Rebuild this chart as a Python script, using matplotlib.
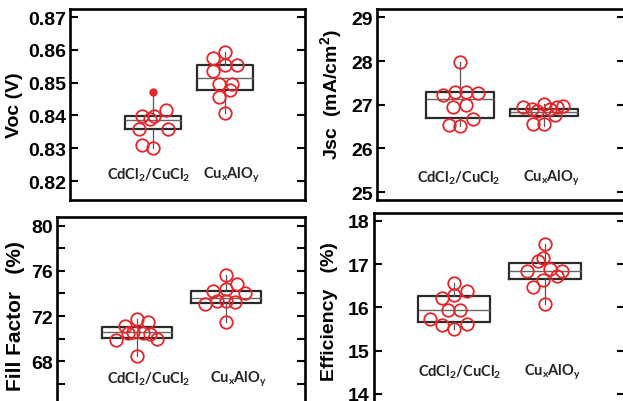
import matplotlib.pyplot as plt
from matplotlib.ticker import MultipleLocator

plt.rcParams['font.family'] = ['Liberation Sans', 'DejaVu Sans']
# sub/superscripts take the font of the surrounding text
plt.rcParams['mathtext.default'] = 'regular'

groups = ['CdCl$_2$/CuCl$_2$', 'Cu$_x$AlO$_y$']

# Voc (V)
voc_a = [0.8397, 0.8389, 0.8397, 0.8417, 0.8360, 0.8360, 0.8309, 0.8302]
voc_a_dx = [-0.157, -0.042, 0.014, 0.18, -0.19, 0.213, -0.157, 0.005]
voc_b = [0.8593, 0.8575, 0.8555, 0.8555, 0.8535, 0.8496, 0.8496, 0.8476, 0.8455, 0.8407]
voc_b_dx = [0.0, -0.162, 0.0, 0.171, -0.162, -0.083, 0.093, 0.069, -0.083, 0.0]
voc_box = [(0.8302, 0.8360, 0.8386, 0.8397, 0.8470), (0.8407, 0.8477, 0.8514, 0.8553, 0.8593)]
voc_flier = [0.8470]

# Jsc (mA/cm2)
jsc_a = [27.97, 27.23, 27.30, 27.30, 27.27, 26.94, 27.00, 26.54, 26.51, 26.68]
jsc_a_dx = [0.0, -0.198, -0.06, 0.071, 0.218, -0.079, 0.071, -0.127, 0.0, 0.151]
jsc_b = [26.94, 26.90, 26.86, 27.02, 26.90, 26.94, 26.98, 26.55, 26.55, 26.76]
jsc_b_dx = [-0.246, -0.147, -0.087, 0.0, 0.071, 0.151, 0.23, -0.127, 0.0, 0.131]
jsc_box = [(26.51, 26.69, 27.13, 27.29, 27.97), (26.52, 26.75, 26.83, 26.90, 27.02)]

# Fill factor (%)
ff_a = [71.7, 71.5, 71.1, 70.6, 70.5, 70.4, 70.0, 69.9, 68.5, 70.5]
ff_a_dx = [0.0, 0.127, -0.135, -0.05, 0.07, 0.15, 0.22, -0.24, 0.0, -0.1]
ff_b = [75.64, 74.84, 74.40, 74.25, 74.02, 73.37, 73.37, 73.22, 73.07, 71.51]
ff_b_dx = [0.0, 0.12, 0.0, -0.142, 0.213, -0.105, 0.0, 0.10, -0.236, 0.0]
ff_box = [(68.5, 70.1, 70.6, 71.05, 71.75), (71.51, 73.2, 73.57, 74.25, 75.64)]

# Efficiency (%)
eff_a = [16.56, 16.38, 16.22, 16.28, 15.94, 15.94, 15.72, 15.58, 15.50, 15.62]
eff_a_dx = [0.0, 0.139, -0.136, 0.0, -0.062, 0.066, -0.264, -0.136, 0.0, 0.139]
eff_b = [17.46, 17.15, 17.06, 16.88, 16.85, 16.85, 16.73, 16.62, 16.48, 16.08]
eff_b_dx = [0.0, -0.018, -0.073, 0.055, -0.2, 0.183, 0.128, -0.018, -0.128, 0.0]
eff_box = [(15.50, 15.65, 15.93, 16.27, 16.56), (16.08, 16.65, 16.85, 17.02, 17.46)]

fig = plt.figure(figsize=(6.23, 4.02), dpi=100)

red = '#e3262b'


def panel(rect, xlim, ylim, a, adx, b, bdx, box, width, ylabel, labx, laby,
          major, minor, ticklabels, catx, caty, ylsize=14, fliers=None):
    ax = fig.add_axes(rect)
    stats = []
    for lo, q1, med, q3, hi in box:
        stats.append(dict(whislo=lo, q1=q1, med=med, q3=q3, whishi=hi, fliers=[]))
    ax.bxp(stats, positions=[1, 2], widths=width, showfliers=False, showcaps=False,
           boxprops=dict(color='#2b2b2b', linewidth=1.6),
           medianprops=dict(color='#666666', linewidth=1.0),
           whiskerprops=dict(color='#555555', linewidth=0.9), zorder=2)
    ax.plot([1 + d for d in adx], a, 'o', ms=9, mfc='none', mec=red, mew=1.3, zorder=3)
    ax.plot([2 + d for d in bdx], b, 'o', ms=9, mfc='none', mec=red, mew=1.3, zorder=3)
    if fliers:
        ax.plot([1] * len(fliers), fliers, 'o', ms=5, color=red, zorder=4)
    ax.set_xlim(xlim)
    ax.set_ylim(ylim)
    ax.set_xticks([])
    ax.yaxis.set_major_locator(MultipleLocator(major))
    if minor:
        ax.yaxis.set_minor_locator(MultipleLocator(minor))
    ax.yaxis.set_major_formatter(ticklabels)
    ax.tick_params(axis='y', which='both', direction='in', left=True, right=True,
                   width=1.5, length=6, pad=3, labelsize=14)
    for lbl in ax.get_yticklabels():
        lbl.set_fontweight('bold')
    for s in ax.spines.values():
        s.set_linewidth(1.9)
    ax.set_ylabel(ylabel, fontsize=ylsize, fontweight='bold')
    ax.yaxis.set_label_coords(labx, laby)
    for g, cx in zip(groups, catx):
        ax.text(cx, caty, g, transform=ax.transAxes, ha='center', va='center',
                fontsize=10.5, fontweight='bold', family=['Lato', 'DejaVu Sans'],
                color='#222222')
    return ax


panel([0.1124, 0.5, 0.3772, 0.4751], (-0.153, 3.111), (0.81421, 0.87244),
      voc_a, voc_a_dx, voc_b, voc_b_dx, voc_box, 0.78, 'Voc (V)', -0.2, 0.503,
      0.01, None, '{x:.2f}', [0.336, 0.689], 0.136, fliers=voc_flier)

panel([0.6051, 0.5, 0.398, 0.4751], (0.012, 2.964), (24.82, 29.19),
      jsc_a, jsc_a_dx, jsc_b, jsc_b_dx, jsc_box, 0.8,
      'Jsc  (mA/cm$^{2}$)', -0.133, 0.555,
      1, None, '{x:.0f}', [0.331, 0.702], 0.12)

panel([0.0915, -0.0124, 0.398, 0.4701], (0.101, 2.888), (64.04, 80.77),
      ff_a, ff_a_dx, ff_b, ff_b_dx, ff_box, 0.79, 'Fill Factor   (%)', -0.129, 0.48,
      4, 2, '{x:.0f}', [0.371, 0.73], 0.146, ylsize=15)

panel([0.6003, -0.0124, 0.4029, 0.4801], (0.121, 2.879), (13.72, 18.18),
      eff_a, eff_a_dx, eff_b, eff_b_dx, eff_box, 0.79, 'Efficiency   (%)', -0.143, 0.497,
      1, None, '{x:.0f}', [0.34, 0.71], 0.18)

fig.savefig('out.png', dpi=100)
